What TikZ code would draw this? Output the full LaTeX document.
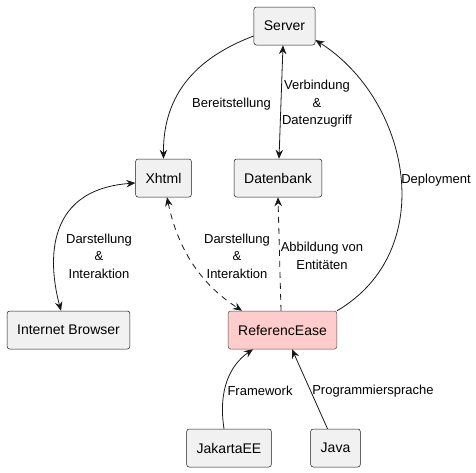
\documentclass[tikz,border=0pt]{standalone}
\usepackage{fontspec}
\setmainfont{Liberation Sans}
\usetikzlibrary{arrows.meta}

\definecolor{boxfill}{HTML}{F1F1F1}
\definecolor{boxline}{HTML}{181818}
\definecolor{rosa}{HTML}{FFCCCC}

\begin{document}
\begin{tikzpicture}[x = 1pt, y = -1pt,
      box/.style = {draw = boxline, line width = 0.5pt, fill = boxfill,
                    rounded corners = 2.5pt, minimum height = 38pt,
                    inner xsep = 10pt, font = \fontsize{14}{16}\selectfont},
      lbl/.style = {align = center, inner sep = 0pt,
                    font = \fontsize{13}{17.5}\selectfont},
      link/.style = {draw = boxline, line width = 0.8pt,
                     arrows = {-Stealth[length = 9pt, width = 7.5pt, inset = 3pt]}},
      both/.style = {link, {Stealth[length = 9pt, width = 7.5pt, inset = 3pt]}-{Stealth[length = 9pt, width = 7.5pt, inset = 3pt]}},
      gestrichelt/.style = {dash pattern = on 6pt off 5pt}]
            \useasboundingbox (0, 0) rectangle (476, 472);

            \node [box] (srv) at (284.5, 26.0) {Server};
            \node [box] (xh) at (163.5, 178.0) {Xhtml};
            \node [box] (db) at (278.0, 178.0) {Datenbank};
            \node [box] (ib) at (68.5, 330.0) {Internet Browser};
            \node [box, fill = rosa, draw = black!70] (re) at (282.5, 330.0)
                  {ReferencEase};
            \node [box] (jk) at (229.0, 448.0) {JakartaEE};
            \node [box] (jv) at (335.5, 448.0) {Java};

            % Server -> Xhtml
            \draw [link] ([yshift = -10pt]srv.west)
                  .. controls (190, 60) and (163, 100) .. (xh.north);
            \node [lbl] (l1) at (231.5, 104) {Bereitstellung};

            % Server <-> Datenbank
            \draw [both] ([xshift = -1.5pt]srv.south) -- ([xshift = 1pt]db.north);
            \node [lbl] (l2) at (317, 104) {Verbindung\\\&\\Datenzugriff};

            % ReferencEase -> Server
            \draw [link] (re.north east)
                  .. controls (440, 250) and (410, 100) .. ([yshift = -14pt]srv.east);
            \node [lbl] (l3) at (436, 180) {Deployment};

            % Xhtml <-> Internet Browser
            \draw [both] ([yshift = -5pt]xh.west)
                  .. controls (40, 190) and (50, 270) .. ([xshift = -7.5pt]ib.north);
            \node [lbl] (l4) at (99, 256) {Darstellung\\\&\\Interaktion};

            % Xhtml <-> ReferencEase
            \draw [both, gestrichelt] ([xshift = 3.5pt]xh.south)
                  .. controls (180, 260) and (210, 290) .. ([xshift = -40.5pt]re.north);
            \node [lbl] (l5) at (237, 256) {Darstellung\\\&\\Interaktion};

            % ReferencEase -> Datenbank
            \draw [link, gestrichelt] ([xshift = -1.5pt]re.north) -- (db.south);
            \node [lbl] (l6) at (322, 256) {Abbildung von\\Entitäten};

            % JakartaEE -> ReferencEase
            \draw [link] ([xshift = -5pt]jk.north)
                  .. controls (218, 390) and (230, 365) .. ([xshift = -29.5pt]re.south);
            \node [lbl] (l7) at (260, 391) {Framework};

            % Java -> ReferencEase
            \draw [link] ([xshift = -8pt]jv.north) -- ([xshift = 9.5pt]re.south);
            \node [lbl] (l8) at (373, 391) {Programmiersprache};
        \end{tikzpicture}
\end{document}
